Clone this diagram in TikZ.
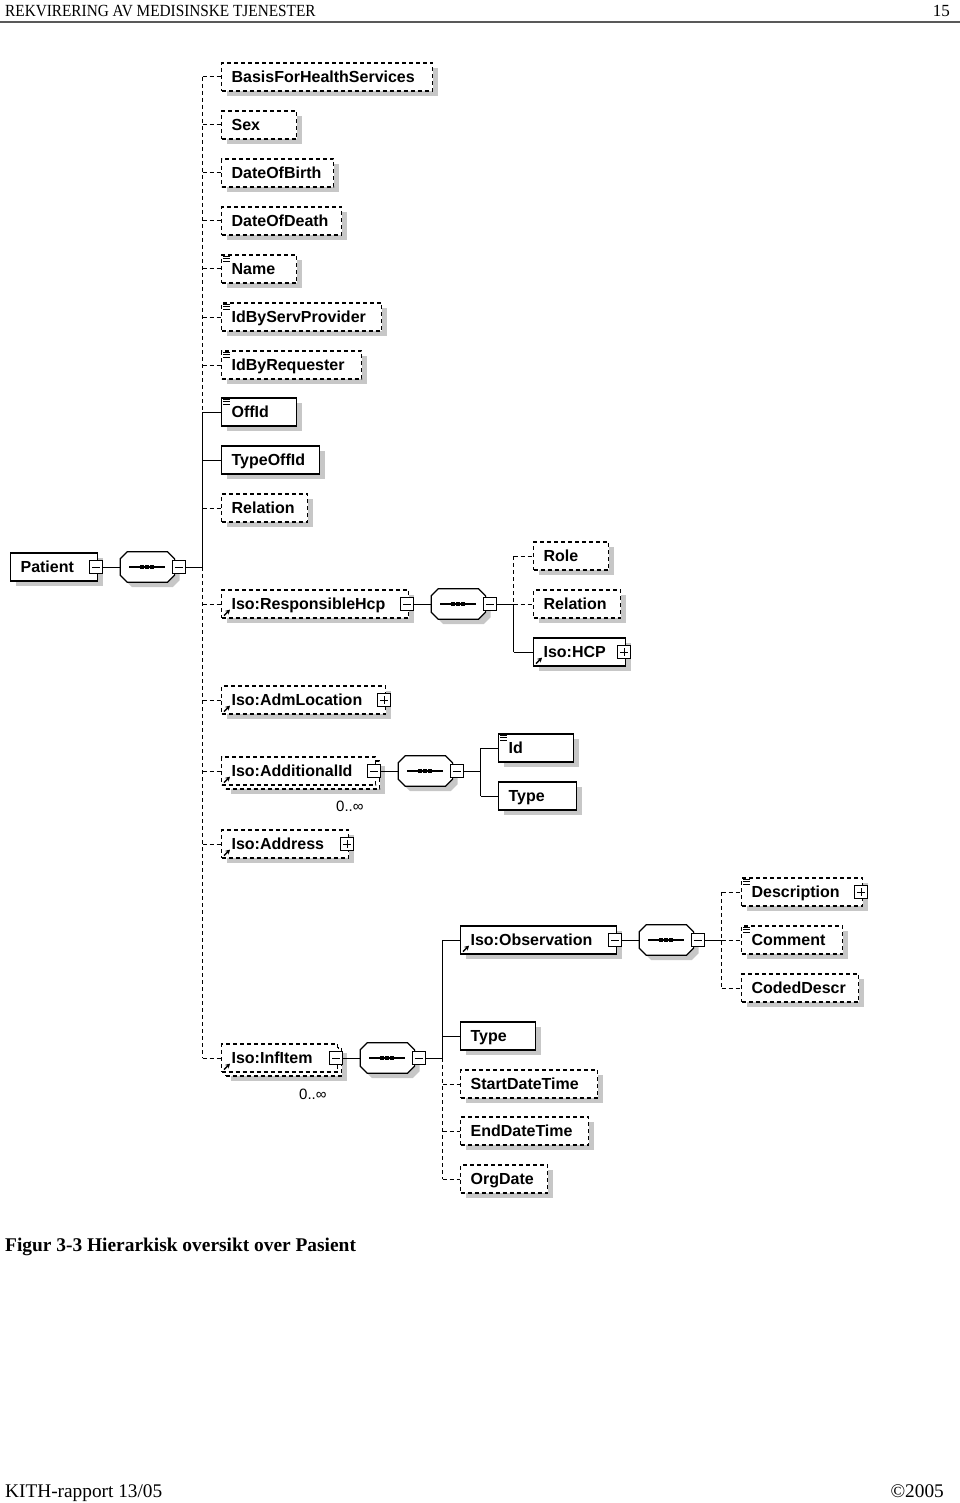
\documentclass[tikz,border=0pt]{standalone}
\usepackage{fontspec}
\setmainfont{Liberation Serif}
\newfontfamily\xmlfont{Liberation Sans}
\usetikzlibrary{positioning,shadows,arrows.meta}
\hyphenpenalty=10000

% octagon of a sequence compositor, drawn round the node #1
\newcommand{\seqbox}[1]{%
    \path ([xshift=7pt]#1.north west) -- ([xshift=-7pt]#1.north east) -- ([yshift=-7pt]#1.north east) -- ([yshift=7pt]#1.south east)
        -- ([xshift=-7pt]#1.south east) -- ([xshift=7pt]#1.south west) -- ([yshift=7pt]#1.south west) -- ([yshift=-7pt]#1.north west) -- cycle
        [fill=black!22, transform canvas={xshift=5pt,yshift=-5pt}];
    \draw[fill=white, line width=1.2pt] ([xshift=7pt]#1.north west) -- ([xshift=-7pt]#1.north east) -- ([yshift=-7pt]#1.north east) -- ([yshift=7pt]#1.south east)
        -- ([xshift=-7pt]#1.south east) -- ([xshift=7pt]#1.south west) -- ([yshift=7pt]#1.south west) -- ([yshift=-7pt]#1.north west) -- cycle;
    \draw[line width=1.2pt] ([xshift=9pt]#1.west) -- ([xshift=-10pt]#1.east);
    \foreach \dx in {-7,-2,3} \fill ([xshift=\dx pt,yshift=2pt]#1.center) rectangle ++(4,4);}

\begin{document}
\begin{tikzpicture}[x=1pt,y=-1pt]
    \tikzstyle{plainelem}=[rectangle, draw=black, fill=white, line width=1.2pt, anchor=west, minimum height=28pt, inner xsep=10pt, inner ysep=0pt, align=left, text height=11.5pt, text depth=0pt, font=\xmlfont\bfseries\fontsize{16}{18}\selectfont]
    \tikzstyle{elem}=[plainelem, drop shadow={shadow xshift=5pt, shadow yshift=-5pt, fill=black!22, opacity=1}]
    \tikzstyle{opt}=[dash pattern=on 4pt off 3pt]
    \tikzstyle{conn}=[line width=1pt]
    \tikzstyle{seq}=[rectangle, minimum width=54pt, minimum height=30pt, inner sep=0pt]
    \tikzstyle{tgminus}=[rectangle, draw=black, fill=white, line width=1pt, minimum size=13pt, inner sep=0pt,
        path picture={\draw[line width=1pt] ([xshift=2.5pt]path picture bounding box.west) -- ([xshift=-2.5pt]path picture bounding box.east);}]
    \tikzstyle{tgplus}=[tgminus,
        path picture={\draw[line width=1pt] ([xshift=2.5pt]path picture bounding box.west) -- ([xshift=-2.5pt]path picture bounding box.east);
            \draw[line width=1pt] ([yshift=-2.5pt]path picture bounding box.north) -- ([yshift=2.5pt]path picture bounding box.south);}]
    \tikzstyle{mult}=[anchor=base west, inner sep=0pt, font=\xmlfont\fontsize{15}{17}\selectfont]

    \useasboundingbox (0,0) rectangle (960,1503);

    % page header, caption and footer
    \node[anchor=base west, inner sep=0pt, font=\fontsize{17}{20}\selectfont] (header) at (5,17) {\scalebox{0.9}[1]{REKVIRERING AV MEDISINSKE TJENESTER}};
    \node[anchor=base east, inner sep=0pt, font=\fontsize{17}{20}\selectfont] (pagenum) at (950,17) {15};
    \draw[line width=1.5pt, black!65] (0,22) -- (960,22);
    \node[anchor=base west, inner sep=0pt, font=\bfseries\fontsize{19.4}{23}\selectfont] (caption) at (5,1251) {Figur 3-3 Hierarkisk oversikt over Pasient};
    \node[anchor=base west, inner sep=0pt, font=\fontsize{19.3}{23}\selectfont] (report) at (5,1497) {KITH-rapport 13/05};
    \node[anchor=base east, inner sep=0pt, font=\fontsize{19.3}{23}\selectfont] (year) at (944,1497) {©2005};

    % Patient
    \node[elem, text width=67pt] (patient) at (10,567) {Patient};
    \node[tgminus] (patient-tg) at ([xshift=-2pt]patient.east) {};
    \node[seq, right=17pt of patient-tg] (patient-seq) {};
    \seqbox{patient-seq}
    \node[tgminus] (patient-seq-tg) at ([xshift=4pt]patient-seq.east) {};
    \coordinate[right=17pt of patient-seq-tg] (patient-fork);
    \draw[conn] (patient-tg) -- (patient-seq);
    \draw[conn] (patient-seq-tg) -- (patient-fork);

    \node[elem, opt, text width=191pt] (basis) at (221,77) {BasisForHealthServices};
    \node[elem, opt, text width=55pt] (sex) at (221,125) {Sex};
    \node[elem, opt, text width=92pt] (dob) at (221,173) {DateOfBirth};
    \node[elem, opt, text width=100pt] (dod) at (221,221) {DateOfDeath};
    \node[elem, opt, text width=55pt] (name) at (221,269) {Name};
    \node[elem, opt, text width=140pt] (idserv) at (221,317) {IdByServProvider};
    \node[elem, opt, text width=120pt] (idreq) at (221,365) {IdByRequester};
    \node[elem, text width=55pt] (offid) at (221,412) {OffId};
    \node[elem, text width=78pt] (typeoffid) at (221,460) {TypeOffId};
    \node[elem, opt, text width=66pt] (relation) at (221,508) {Relation};
    \node[elem, opt, text width=167pt] (resphcp) at (221,604) {Iso:ResponsibleHcp};
    \node[elem, opt, text width=144pt] (admloc) at (221,700) {Iso:AdmLocation};
    \node[elem, opt, text width=134pt] (addid-back) at (225,775) {};
    \node[plainelem, opt, text width=134pt] (addid) at (221,771) {Iso:AdditionalId};
    \node[elem, opt, text width=107pt] (address) at (221,844) {Iso:Address};
    \node[elem, opt, text width=96pt] (infitem-back) at (225,1062) {};
    \node[plainelem, opt, text width=96pt] (infitem) at (221,1058) {Iso:InfItem};
    \node[mult] (addid-mult) at (336,811) {0..∞};
    \node[mult] (infitem-mult) at (299,1099) {0..∞};

    \draw[conn, opt] (patient-fork |- basis.west) -- (patient-fork |- offid.west);
    \draw[conn] (patient-fork |- offid.west) -- (patient-fork);
    \draw[conn, opt] (patient-fork) -- (patient-fork |- infitem.west);
    \foreach \c in {basis,sex,dob,dod,name,idserv,idreq,relation,resphcp,admloc,addid,address,infitem}
        \draw[conn, opt] (patient-fork |- \c.west) -- (\c.west);
    \foreach \c in {offid,typeoffid}
        \draw[conn] (patient-fork |- \c.west) -- (\c.west);

    % Iso:ResponsibleHcp
    \node[tgminus] (resphcp-tg) at ([xshift=-2pt]resphcp.east) {};
    \node[seq, right=17pt of resphcp-tg] (resphcp-seq) {};
    \seqbox{resphcp-seq}
    \node[tgminus] (resphcp-seq-tg) at ([xshift=4pt]resphcp-seq.east) {};
    \coordinate[right=17pt of resphcp-seq-tg] (resphcp-fork);
    \draw[conn] (resphcp-tg) -- (resphcp-seq);
    \draw[conn] (resphcp-seq-tg) -- (resphcp-fork);
    \node[elem, opt, text width=55pt] (role) at (533,556) {Role};
    \node[elem, opt, text width=67pt] (hcprelation) at (533,604) {Relation};
    \node[elem, text width=72pt] (hcp) at (533,652) {Iso:HCP};
    \node[tgplus] (hcp-tg) at ([xshift=-2pt]hcp.east) {};
    \draw[conn, opt] (resphcp-fork |- role.west) -- (resphcp-fork);
    \draw[conn] (resphcp-fork) -- (resphcp-fork |- hcp.west);
    \draw[conn, opt] (resphcp-fork |- role.west) -- (role.west);
    \draw[conn, opt] (resphcp-fork) -- (hcprelation.west);
    \draw[conn] (resphcp-fork |- hcp.west) -- (hcp.west);

    % Iso:AdmLocation, Iso:Address
    \node[tgplus] (admloc-tg) at ([xshift=-2pt]admloc.east) {};
    \node[tgplus] (address-tg) at ([xshift=-2pt]address.east) {};

    % Iso:AdditionalId
    \node[tgminus] (addid-tg) at ([xshift=-2pt]addid.east) {};
    \node[seq, right=17pt of addid-tg] (addid-seq) {};
    \seqbox{addid-seq}
    \node[tgminus] (addid-seq-tg) at ([xshift=4pt]addid-seq.east) {};
    \coordinate[right=17pt of addid-seq-tg] (addid-fork);
    \draw[conn] (addid-tg) -- (addid-seq);
    \draw[conn] (addid-seq-tg) -- (addid-fork);
    \node[elem, text width=55pt] (id) at (498,748) {Id};
    \node[elem, text width=58pt] (idtype) at (498,796) {Type};
    \draw[conn] (addid-fork |- id.west) -- (addid-fork |- idtype.west);
    \foreach \c in {id,idtype}
        \draw[conn] (addid-fork |- \c.west) -- (\c.west);

    % Iso:InfItem
    \node[tgminus] (infitem-tg) at ([xshift=-2pt]infitem.east) {};
    \node[seq, right=17pt of infitem-tg] (infitem-seq) {};
    \seqbox{infitem-seq}
    \node[tgminus] (infitem-seq-tg) at ([xshift=4pt]infitem-seq.east) {};
    \coordinate[right=17pt of infitem-seq-tg] (infitem-fork);
    \draw[conn] (infitem-tg) -- (infitem-seq);
    \draw[conn] (infitem-seq-tg) -- (infitem-fork);
    \node[elem, text width=136pt] (obs) at (460,940) {Iso:Observation};
    \node[elem, text width=55pt] (itemtype) at (460,1036) {Type};
    \node[elem, opt, text width=117pt] (start) at (460,1084) {StartDateTime};
    \node[elem, opt, text width=108pt] (end) at (460,1131) {EndDateTime};
    \node[elem, opt, text width=67pt] (orgdate) at (460,1179) {OrgDate};
    \draw[conn] (infitem-fork |- obs.west) -- (infitem-fork);
    \draw[conn, opt] (infitem-fork) -- (infitem-fork |- orgdate.west);
    \foreach \c in {obs,itemtype}
        \draw[conn] (infitem-fork |- \c.west) -- (\c.west);
    \foreach \c in {start,end,orgdate}
        \draw[conn, opt] (infitem-fork |- \c.west) -- (\c.west);

    % Iso:Observation
    \node[tgminus] (obs-tg) at ([xshift=-2pt]obs.east) {};
    \node[seq, right=17pt of obs-tg] (obs-seq) {};
    \seqbox{obs-seq}
    \node[tgminus] (obs-seq-tg) at ([xshift=4pt]obs-seq.east) {};
    \coordinate[right=17pt of obs-seq-tg] (obs-fork);
    \draw[conn] (obs-tg) -- (obs-seq);
    \draw[conn] (obs-seq-tg) -- (obs-fork);
    \node[elem, opt, text width=101pt] (desc) at (741,892) {Description};
    \node[elem, opt, text width=81pt] (comment) at (741,940) {Comment};
    \node[elem, opt, text width=97pt] (coded) at (741,988) {CodedDescr};
    \node[tgplus] (desc-tg) at ([xshift=-2pt]desc.east) {};
    \draw[conn, opt] (obs-fork |- desc.west) -- (obs-fork |- coded.west);
    \foreach \c in {desc,comment,coded}
        \draw[conn, opt] (obs-fork |- \c.west) -- (\c.west);

    % icons
    \foreach \c in {name,idserv,idreq,offid,id,desc,comment}
        \foreach \dy in {2,4.5,7}
            \draw[line width=0.9pt] ([xshift=2pt,yshift=-\dy pt]\c.north west) -- ++(7,0);
    \foreach \c in {resphcp,admloc,addid,address,infitem,hcp,obs}
        \draw[line width=1.4pt, -{Stealth[length=4.5pt,width=5pt]}] ([xshift=3pt,yshift=3pt]\c.south west) -- ++(6,-6);
\end{tikzpicture}
\end{document}
